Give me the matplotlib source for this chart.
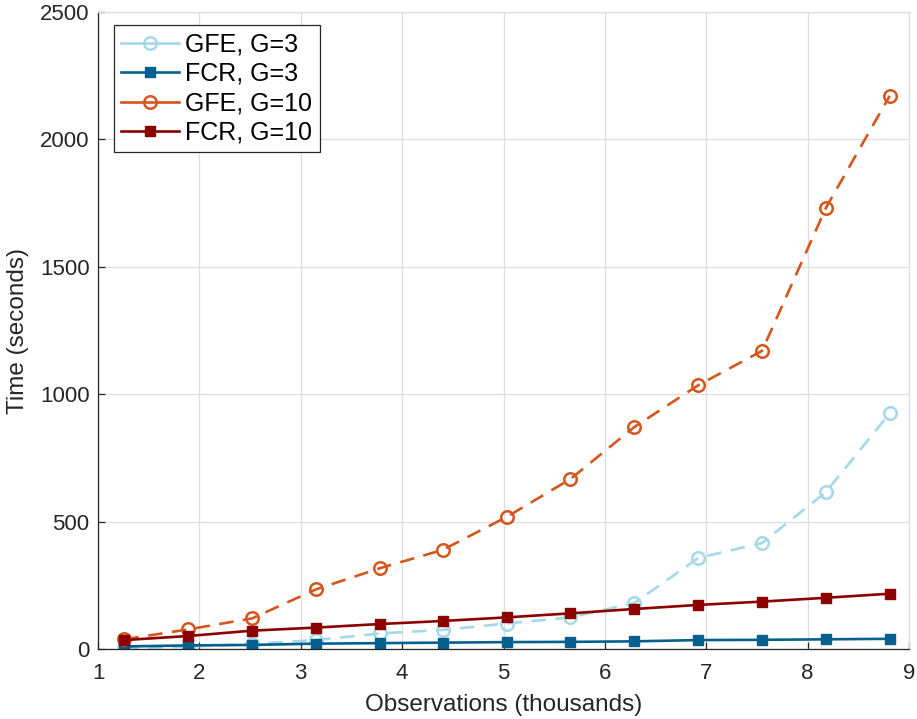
import matplotlib
matplotlib.use("Agg")
import matplotlib.pyplot as plt

plt.rcParams['font.family'] = ['Liberation Sans', 'DejaVu Sans']

obs = [1.26, 1.89, 2.52, 3.15, 3.78, 4.40, 5.03, 5.66, 6.29, 6.92, 7.55, 8.18, 8.81]
gfe_g3 = [3, 9, 20, 35, 61, 75, 100, 124, 180, 357, 416, 616, 925]
fcr_g3 = [10, 14, 16, 21, 23, 25, 27, 28, 30, 35, 36, 38, 40]
gfe_g10 = [38, 77, 120, 234, 317, 389, 518, 667, 871, 1035, 1170, 1731, 2171]
fcr_g10 = [35, 51, 72, 84, 98, 110, 124, 140, 157, 173, 186, 201, 217]

labels = ['GFE, G=3', 'FCR, G=3', 'GFE, G=10', 'FCR, G=10']
colors = ['#a6d9e8', '#05608f', '#d4561d', '#8c0000']

fig = plt.figure(figsize=(9.17, 7.19), dpi=100)
ax = fig.add_axes([98/917, 1-649/719, (909-98)/917, (649-12)/719])

dash = (5.5, 3.6)
ax.plot(obs, gfe_g3, color=colors[0], lw=1.9, ls=(0, dash), marker='o', ms=9,
        mfc='none', mec=colors[0], mew=1.8, label=labels[0])
ax.plot(obs, fcr_g3, color=colors[1], lw=1.9, ls='-', marker='s', ms=7.5,
        mfc=colors[1], mec=colors[1], label=labels[1])
ax.plot(obs, gfe_g10, color=colors[2], lw=1.9, ls=(0, dash), marker='o', ms=9,
        mfc='none', mec=colors[2], mew=1.8, label=labels[2])
ax.plot(obs, fcr_g10, color=colors[3], lw=1.9, ls='-', marker='s', ms=7.5,
        mfc=colors[3], mec=colors[3], label=labels[3])

ax.set_xlim(1, 9)
ax.set_ylim(0, 2500)
ax.set_xticks(range(1, 10))
ax.set_yticks(range(0, 2501, 500))
ax.grid(True, color='#dedede', lw=0.9)
ax.set_axisbelow(True)
for side in ['left', 'bottom']:
    ax.spines[side].set_color('#262626')
    ax.spines[side].set_linewidth(0.9)
for side in ['top', 'right']:
    ax.spines[side].set_color('#dedede')
    ax.spines[side].set_linewidth(0.9)
ax.tick_params(direction='in', length=5, width=0.9, colors='#262626', labelsize=16,
               labelcolor='#262626')
ax.tick_params(axis='x', pad=10)
ax.tick_params(axis='y', pad=6)
ax.set_xlabel('Observations (thousands)', fontsize=17.5, color='#262626', labelpad=7)
ax.set_ylabel('Time (seconds)', fontsize=17.5, color='#262626', labelpad=8)

leg = ax.legend(loc='upper left', bbox_to_anchor=(0.0197, 0.9796), fontsize=18,
                fancybox=False, framealpha=1, edgecolor='#262626',
                handlelength=2.3, handletextpad=0.25, borderpad=0.3, labelspacing=0.22,
                borderaxespad=0)
leg.get_frame().set_linewidth(0.9)
for ln in leg.get_lines():
    ln.set_linestyle('-')

fig.savefig('out.png', dpi=100)
